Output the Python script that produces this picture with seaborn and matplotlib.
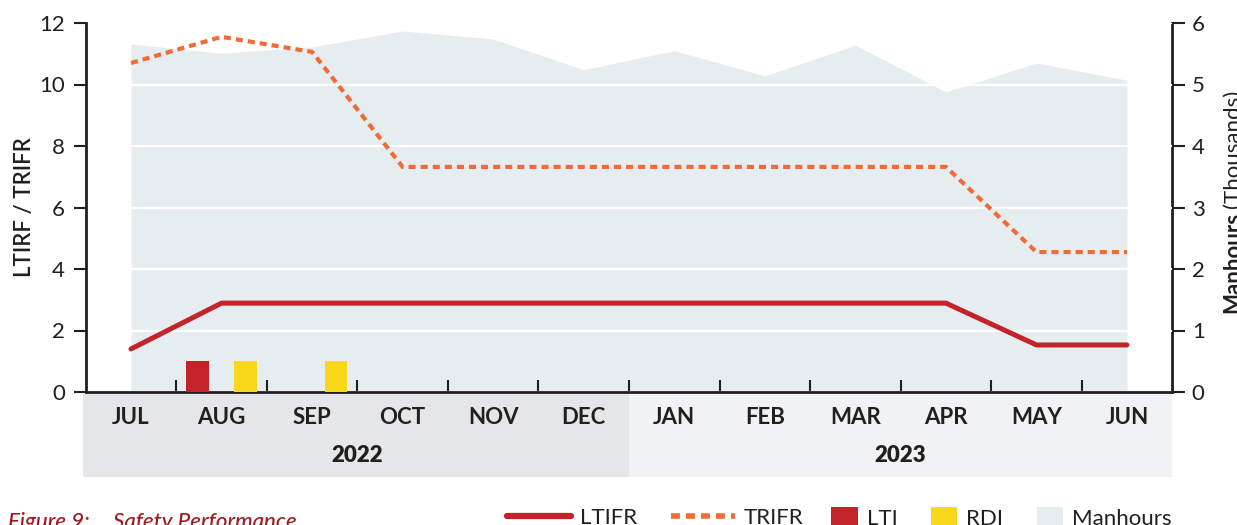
import numpy as np
import pandas as pd
import matplotlib
matplotlib.use("Agg")
import matplotlib.pyplot as plt
import seaborn as sns
from matplotlib.lines import Line2D
from matplotlib.patches import Patch, Rectangle

# ---------------- data ----------------
months = ["JUL", "AUG", "SEP", "OCT", "NOV", "DEC",
          "JAN", "FEB", "MAR", "APR", "MAY", "JUN"]
years = ["2022", "2023"]
ltifr = [1.40, 2.89, 2.89, 2.89, 2.89, 2.89, 2.89, 2.89, 2.89, 2.89, 1.53, 1.53]
trifr = [10.70, 11.55, 11.06, 7.32, 7.32, 7.32, 7.32, 7.32, 7.32, 7.32, 4.55, 4.55]
lti = [0, 1, 0, 0, 0, 0, 0, 0, 0, 0, 0, 0]
rdi = [0, 1, 1, 0, 0, 0, 0, 0, 0, 0, 0, 0]
manhours = [5.66, 5.51, 5.61, 5.87, 5.74, 5.24, 5.55, 5.14, 5.64, 4.88, 5.35, 5.07]

# ---------------- style ----------------
sns.set_style("white")
plt.rcParams["font.family"] = ["Lato", "DejaVu Sans"]

DARK = "#231f20"
RED = "#c5232a"
ORANGE = "#f26a35"
YELLOW = "#f9d71a"
AREA = "#e6edf1"
BAND22 = "#e5e6e8"
BAND23 = "#f1f2f4"
CAPTION = "#9e1b22"

W, H = 1237, 525
fig = plt.figure(figsize=(W / 100, H / 100), dpi=100)
ax_l, ax_r, ax_b, ax_t = 85.7, 1172.3, 392, 23
ax = fig.add_axes([ax_l / W, 1 - ax_b / H, (ax_r - ax_l) / W, (ax_b - ax_t) / H])
ax2 = ax.twinx()
ax.set_zorder(ax2.get_zorder() + 1)
ax.patch.set_visible(False)

idx = np.arange(len(months))

# manhours area on secondary axis
ax2.fill_between(idx, 0, manhours, color=AREA, lw=0)
ax2.set_ylim(0, 6)

# bars (LTI / RDI)
df_bars = pd.DataFrame({
    "month": list(idx) * 2,
    "type": ["LTI"] * len(idx) + ["RDI"] * len(idx),
    "count": lti + rdi,
})
sns.barplot(data=df_bars, x="month", y="count", hue="type",
            palette={"LTI": RED, "RDI": YELLOW}, saturation=1,
            width=1.06, gap=0.54, errorbar=None, legend=False,
            linewidth=0, ax=ax, zorder=3)

# lines
sns.lineplot(x=idx, y=trifr, ax=ax, color=ORANGE, lw=3.0,
             linestyle=(0, (1.7, 1.2)), dash_capstyle="butt", zorder=4)
sns.lineplot(x=idx, y=ltifr, ax=ax, color=RED, lw=3.6,
             solid_capstyle="round", zorder=5)

ax.set_xlim(-0.5, 11.5)
ax.set_ylim(0, 12)
ax.set_xlabel("")
ax.set_ylabel("")

# grid
ax.set_axisbelow(True)
ax.yaxis.grid(True, color="white", lw=1.6)
ax.xaxis.grid(False)
ax2.grid(False)

# y ticks
ax.set_yticks(np.arange(0, 13, 2))
ax.tick_params(axis="y", direction="out", length=9, width=1.5, color=DARK,
               labelcolor=DARK, labelsize=16, pad=6, left=True)
ax2.set_yticks(np.arange(0, 7, 1))
ax2.tick_params(axis="y", direction="out", length=9, width=1.5, color=DARK,
                labelcolor=DARK, labelsize=16, pad=5, right=True)

# x ticks: boundary ticks (major, inward) + month labels (minor)
ax.set_xticks(np.arange(0.5, 11, 1))
ax.set_xticklabels([""] * 11)
ax.tick_params(axis="x", which="major", direction="in", length=9, width=1.5,
               color=DARK, bottom=True)
ax.set_xticks(idx, minor=True)
ax.set_xticklabels(months, minor=True, fontweight="bold")
ax.tick_params(axis="x", which="minor", length=0, labelsize=16,
               labelcolor=DARK, pad=11)

# spines
for s in ["top", "right"]:
    ax.spines[s].set_visible(False)
for s in ["left", "bottom"]:
    ax.spines[s].set_color(DARK)
    ax.spines[s].set_linewidth(2)
for s in ["top", "left", "bottom"]:
    ax2.spines[s].set_visible(False)
ax2.spines["right"].set_color(DARK)
ax2.spines["right"].set_linewidth(2)

# label band under the x axis
tr = ax.get_xaxis_transform()
y0 = (ax_b - 477) / (ax_b - ax_t)
y1 = (ax_b - 393.5) / (ax_b - ax_t)
ax.add_patch(Rectangle((-0.53, y0), 6.03, y1 - y0, transform=tr,
                       color=BAND22, lw=0, clip_on=False, zorder=0))
ax.add_patch(Rectangle((5.5, y0), 6.0, y1 - y0, transform=tr,
                       color=BAND23, lw=0, clip_on=False, zorder=0))
yb = (ax_b - 462) / (ax_b - ax_t)
ax.text(2.5, yb, years[0], transform=tr, ha="center", va="baseline",
        fontsize=16, fontweight="heavy", color=DARK)
ax.text(8.5, yb, years[1], transform=tr, ha="center", va="baseline",
        fontsize=16, fontweight="heavy", color=DARK)

# left y label
ax.set_ylabel("LTIRF / TRIFR", fontsize=16, fontweight="semibold", color=DARK)
ax.yaxis.set_label_coords(-0.047, 0.5)

# right y label (two weights)
fig.canvas.draw()
rend = fig.canvas.get_renderer()
inv = fig.transFigure.inverted()
xr = 1239 / W
t1 = fig.text(xr, 1 - 313 / H, "Manhours", rotation=90, rotation_mode="anchor",
              ha="left", va="baseline", fontsize=16, fontweight="bold", color=DARK)
bb = t1.get_window_extent(rend)
ytop = inv.transform((0, bb.y1 + 4))[1]
fig.text(xr, ytop, "(Thousands)", rotation=90, rotation_mode="anchor",
         ha="left", va="baseline", fontsize=16, fontweight="normal", color=DARK)

# caption
fig.text(8 / W, -3 / H, "Figure 9:", ha="left", va="baseline", fontsize=16,
         style="italic", fontweight="medium", color=CAPTION)
fig.text(113 / W, -3 / H, "Safety Performance", ha="left", va="baseline",
         fontsize=16, style="italic", fontweight="medium", color=CAPTION)

# legends
line_handles = [
    Line2D([], [], color=RED, lw=4.5, solid_capstyle="round"),
    Line2D([], [], color=ORANGE, lw=4.0, linestyle=(0, (1.6, 1.1))),
]
leg1 = fig.legend(line_handles, ["LTIFR", "TRIFR"], loc="center left",
                  bbox_to_anchor=(507 / W, 7 / H), ncol=2, frameon=False,
                  fontsize=16, handlelength=2.9, handletextpad=0.4,
                  columnspacing=1.5, borderpad=0, borderaxespad=0,
                  labelcolor=DARK)
patch_handles = [Patch(color=RED, lw=0), Patch(color=YELLOW, lw=0),
                 Patch(color=AREA, lw=0)]
leg2 = fig.legend(patch_handles, ["LTI", "RDI", "Manhours"], loc="center left",
                  bbox_to_anchor=(831 / W, 7 / H), ncol=3, frameon=False,
                  fontsize=16, handlelength=1.2, handleheight=1.2,
                  handletextpad=0.4, columnspacing=1.5, borderpad=0,
                  borderaxespad=0, labelcolor=DARK)

fig.savefig("out.png", dpi=100)
